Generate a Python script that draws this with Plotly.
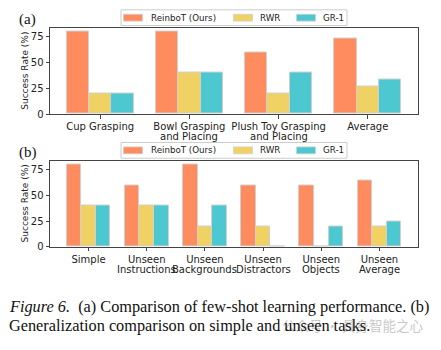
import plotly.graph_objects as go

methods = ["ReinboT (Ours)", "RWR", "GR-1"]
colors = ["#FF8C5F", "#F0D264", "#4DC8D0"]

cats_a = ["Cup Grasping", "Bowl Grasping|and Placing", "Plush Toy Grasping|and Placing", "Average"]
vals_a = {
    "ReinboT (Ours)": [80, 80, 60, 73.3],
    "RWR": [20, 40, 20, 26.7],
    "GR-1": [20, 40, 40, 33.3],
}

cats_b = ["Simple", "Unseen|Instructions", "Unseen|Backgrounds", "Unseen|Distractors", "Unseen|Objects", "Unseen|Average"]
vals_b = {
    "ReinboT (Ours)": [80, 60, 80, 60, 60, 65],
    "RWR": [40, 40, 20, 20, 0, 20],
    "GR-1": [40, 40, 40, 0, 20, 25],
}

W, H = 441, 350
fig = go.Figure()
width = 0.25
offsets = [-0.25, 0.0, 0.25]

for m, c, off in zip(methods, colors, offsets):
    fig.add_trace(go.Bar(
        x=[i + off for i in range(len(cats_a))], y=vals_a[m], name=m,
        width=width, marker=dict(color=c, line=dict(color="#d0d0d0", width=1)),
        xaxis="x", yaxis="y", showlegend=False,
    ))
for m, c, off in zip(methods, colors, offsets):
    fig.add_trace(go.Bar(
        x=[i + off for i in range(len(cats_b))], y=vals_b[m], name=m,
        width=width, marker=dict(color=c, line=dict(color="#d0d0d0", width=1)),
        xaxis="x2", yaxis="y2", showlegend=False,
    ))

xd = [50 / W, 418 / W]
yd_a = [1 - 116 / H, 1 - 28 / H]
yd_b = [1 - 251 / H, 1 - 163.3 / H]

tickfont = dict(family="DejaVu Sans", size=10, color="#222")
axis_common = dict(showline=True, linecolor="#444", linewidth=1, mirror=True,
                   ticks="outside", ticklen=3.5, tickcolor="#444", showgrid=False,
                   zeroline=False, tickfont=tickfont, tickangle=0)

def ncat(n):
    span = (n - 1) + 0.75
    m = span * 0.05
    return [-0.375 - m, n - 1 + 0.375 + m]

def line(labels, k):
    out = []
    for s in labels:
        parts = s.split("|")
        out.append(parts[k] if k < len(parts) else "")
    return out

fig.update_layout(
    width=W, height=H, margin=dict(l=0, r=0, t=0, b=0),
    paper_bgcolor="white", plot_bgcolor="white",
    barmode="overlay", bargap=0, showlegend=False,
    xaxis=dict(domain=xd, anchor="y", range=ncat(4), tickmode="array",
               tickvals=list(range(4)), ticktext=line(cats_a, 0), ticklabelstandoff=-1, **axis_common),
    yaxis=dict(domain=yd_a, anchor="x", range=[0, 84], tickvals=[0, 25, 50, 75], **axis_common),
    xaxis2=dict(domain=xd, anchor="y2", range=ncat(6), tickmode="array",
                tickvals=list(range(6)), ticktext=line(cats_b, 0), ticklabelstandoff=0, **axis_common),
    yaxis2=dict(domain=yd_b, anchor="x2", range=[0, 84], tickvals=[0, 25, 50, 75], **axis_common),
)

# second lines of category labels, placed just under the first line
for xref, labels, yc in (("x", cats_a, 139), ("x2", cats_b, 274)):
    for i, t in enumerate(line(labels, 1)):
        if t:
            fig.add_annotation(text=t, x=i, y=1 - yc / H, xref=xref, yref="paper",
                               xanchor="center", yanchor="middle", showarrow=False,
                               font=tickfont, borderpad=0)

# y-axis titles
for yc in (72, 207):
    fig.add_annotation(text="Success Rate (%)", x=25 / W, y=1 - yc / H, xref="paper", yref="paper",
                       textangle=-90, showarrow=False, xanchor="center", yanchor="middle",
                       font=dict(family="DejaVu Sans", size=9, color="#222"))

# legends (manual, framed, above each panel)
patch_x = [(123.5, 142.5), (233.5, 252.5), (296.5, 315.5)]
text_x = [149, 258, 321]
for yc in (18, 153):
    fig.add_shape(type="rect", xref="paper", yref="paper",
                  x0=121 / W, x1=347 / W, y0=1 - (yc - 8) / H, y1=1 - (yc + 8) / H,
                  line=dict(color="#cccccc", width=1), fillcolor="white", layer="above")
    for m, c, (px0, px1), tx in zip(methods, colors, patch_x, text_x):
        fig.add_shape(type="rect", xref="paper", yref="paper",
                      x0=px0 / W, x1=px1 / W, y0=1 - (yc - 3.5) / H, y1=1 - (yc + 3.5) / H,
                      line=dict(color="#d0d0d0", width=0.8), fillcolor=c, layer="above")
        fig.add_annotation(text=m, x=tx / W, y=1 - yc / H, xref="paper", yref="paper",
                           xanchor="left", yanchor="middle", showarrow=False,
                           font=dict(family="DejaVu Sans", size=8.7, color="#222"))

fig.add_annotation(text="(a)", x=17 / W, y=1 - 20 / H, xref="paper", yref="paper",
                   xanchor="left", yanchor="middle", showarrow=False,
                   font=dict(family="Liberation Serif", size=15, color="#111"))
fig.add_annotation(text="(b)", x=17 / W, y=1 - 155 / H, xref="paper", yref="paper",
                   xanchor="left", yanchor="middle", showarrow=False,
                   font=dict(family="Liberation Serif", size=15, color="#111"))

fig.add_annotation(text="公众号 · 具身智能之心", x=426 / W, y=1 - 331 / H, xref="paper", yref="paper",
                   xanchor="right", yanchor="middle", showarrow=False, opacity=0.45,
                   font=dict(family="Noto Sans CJK SC", size=13.5, color="#888"))

fig.add_annotation(
    text="<i>Figure 6.</i>  (a) Comparison of few-shot learning performance. (b)",
    x=7 / W, y=1 - 312 / H, xref="paper", yref="paper", xanchor="left", yanchor="middle",
    showarrow=False, font=dict(family="Liberation Serif", size=16.3, color="#111"))
fig.add_annotation(
    text="Generalization comparison on simple and unseen tasks.",
    x=7 / W, y=1 - 331 / H, xref="paper", yref="paper", xanchor="left", yanchor="middle",
    showarrow=False, font=dict(family="Liberation Serif", size=16.3, color="#111"))

fig.write_html("out.html")
